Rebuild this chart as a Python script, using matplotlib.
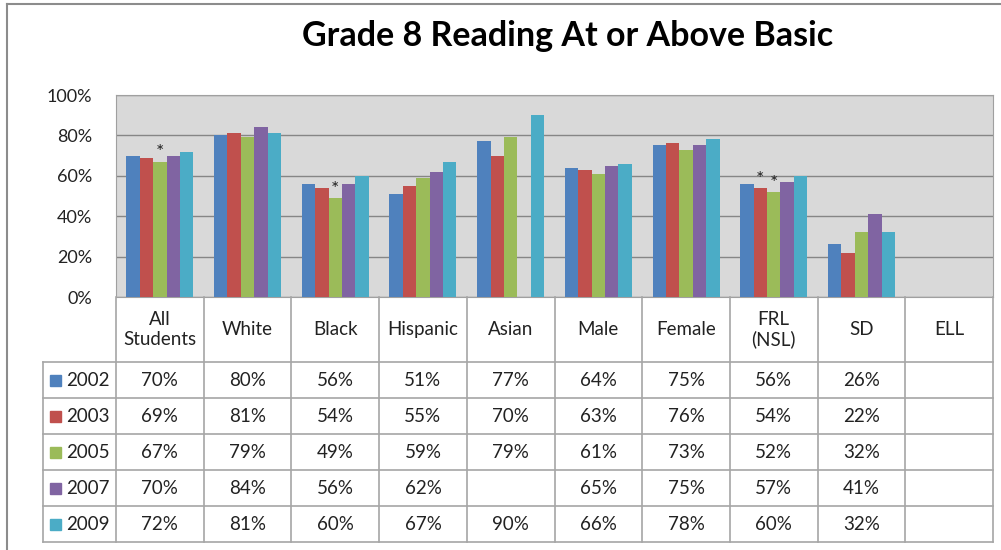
"""Grade 8 reading at or above basic: clustered columns with a data table."""

import matplotlib

matplotlib.use("Agg")
import matplotlib.pyplot as plt
import numpy as np
from matplotlib.lines import Line2D
from matplotlib.patches import Rectangle

plt.rcParams["font.family"] = ["Lato", "DejaVu Sans"]

CATEGORIES = ["All\nStudents", "White", "Black", "Hispanic", "Asian",
              "Male", "Female", "FRL\n(NSL)", "SD", "ELL"]
YEARS = ["2002", "2003", "2005", "2007", "2009"]
NAN = np.nan
V2002 = [70, 80, 56, 51, 77, 64, 75, 56, 26, NAN]
V2003 = [69, 81, 54, 55, 70, 63, 76, 54, 22, NAN]
V2005 = [67, 79, 49, 59, 79, 61, 73, 52, 32, NAN]
V2007 = [70, 84, 56, 62, NAN, 65, 75, 57, 41, NAN]
V2009 = [72, 81, 60, 67, 90, 66, 78, 60, 32, NAN]
SERIES = [V2002, V2003, V2005, V2007, V2009]
# (category index, year index) of bars flagged with an asterisk
FLAGGED = [(0, 2), (2, 2), (7, 1), (7, 2)]

COLORS = ["#4F81BD", "#C0504D", "#9BBB59", "#8064A2", "#4BACC6"]
W, H = 1001, 550


def fx(px):
    return px / W


def fy(py):
    return 1 - py / H


fig = plt.figure(figsize=(W / 100, H / 100), dpi=100)

# outer chart border (top and left visible)
fig.add_artist(Line2D([fx(7), fx(1001)], [fy(3.5), fy(3.5)], color="#8C8C8C", lw=1.5))
fig.add_artist(Line2D([fx(7), fx(7)], [fy(3.5), fy(550)], color="#8C8C8C", lw=1.5))

fig.text(fx(568), fy(36), "Grade 8 Reading At or Above Basic", ha="center", va="center",
         fontsize=24.5, fontweight="bold", color="#000000")

left, right, top, bottom = 116, 993, 95, 297
ax = fig.add_axes([fx(left), fy(bottom), fx(right - left), fy(top) - fy(bottom)])
ax.set_facecolor("#D9D9D9")
n = len(CATEGORIES)
x = np.arange(n)
bw = 0.153
for j, (vals, col) in enumerate(zip(SERIES, COLORS)):
    ax.bar(x + (j - 2) * bw, np.array(vals) / 100, width=bw, color=col, zorder=3)
for ci, yj in FLAGGED:
    ax.text(ci + (yj - 2) * bw, SERIES[yj][ci] / 100 + 0.002, "*", ha="center", va="bottom",
            fontsize=14, color="#222222", zorder=4)
ax.set_xlim(-0.5, n - 0.5)
ax.set_ylim(0, 1)
ax.set_yticks(np.arange(0, 1.01, 0.2))
ax.set_yticklabels([f"{int(round(t * 100))}%" for t in np.arange(0, 1.01, 0.2)],
                   fontsize=13, color="#222222")
ax.tick_params(axis="y", length=0, pad=17)
ax.set_xticks([])
ax.grid(axis="y", color="#868686", lw=1, zorder=1)
for s in ax.spines.values():
    s.set_color("#A0A0A0")

# data table below the plot area
leg_w = (left - 43) / ((right - left) / n)
hdr = (362 - bottom) / 36
tab = fig.add_axes([fx(43), fy(542), fx(right - 43), fy(bottom) - fy(542)])
tab.set_xlim(-0.5 - leg_w, n - 0.5)
tab.set_ylim(len(YEARS), -hdr)
tab.axis("off")
lc = "#A6A6A6"
# horizontal lines
for r in range(len(YEARS) + 1):
    tab.plot([-0.5 - leg_w, n - 0.5], [r, r], color=lc, lw=1.2, clip_on=False)
# vertical lines
for b in range(n + 1):
    tab.plot([b - 0.5, b - 0.5], [-hdr, len(YEARS)], color=lc, lw=1.2, clip_on=False)
tab.plot([-0.5 - leg_w] * 2, [0, len(YEARS)], color=lc, lw=1.2, clip_on=False)

for i, cat in enumerate(CATEGORIES):
    tab.text(i, -hdr / 2, cat, ha="center", va="center", fontsize=13.5,
             color="#222222", linespacing=1.15)
for r, (yr, vals, col) in enumerate(zip(YEARS, SERIES, COLORS)):
    tab.add_patch(Rectangle((-0.5 - leg_w + 0.085, r + 0.36), 0.115, 0.3,
                            color=col, clip_on=False))
    tab.text(-0.5 - leg_w + 0.26, r + 0.5, yr, ha="left", va="center", fontsize=13.5,
             color="#222222")
    for i, v in enumerate(vals):
        if not np.isnan(v):
            tab.text(i, r + 0.52, f"{int(v)}%", ha="center", va="center", fontsize=13.5,
                     color="#222222")

fig.savefig("out.png", dpi=100)
